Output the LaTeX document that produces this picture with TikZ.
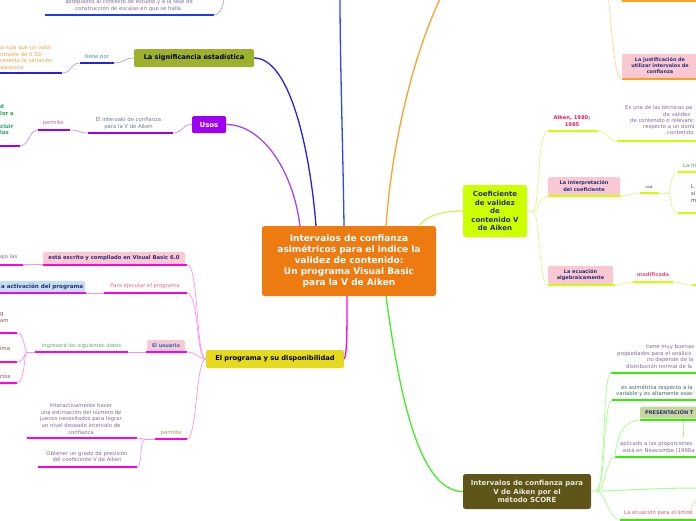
\documentclass[tikz,border=0pt]{standalone}
\usepackage{fontspec}
\setmainfont{DejaVu Sans}
\newcommand\myfs[2]{\fontsize{#1}{#2}\selectfont}
\definecolor{corange}{HTML}{EE7A12}
\definecolor{cpurple}{HTML}{9F00F3}
\definecolor{colive}{HTML}{9DB12E}
\definecolor{cyellow}{HTML}{E6DA20}
\definecolor{clime}{HTML}{CCFF00}
\definecolor{cdark}{HTML}{5E5618}
\definecolor{cpink}{HTML}{F9C8D2}
\definecolor{clblue}{HTML}{C8DDF1}
\definecolor{cpres}{HTML}{C6D69C}
\definecolor{cmag}{HTML}{FF00EE}
\definecolor{cmagl}{HTML}{FF90F8}
\definecolor{cgreen}{HTML}{33EE00}
\definecolor{cgreenl}{HTML}{A8FF90}
\definecolor{climel}{HTML}{E2F88A}
\definecolor{cblue}{HTML}{1E3CF0}
\definecolor{cindigo}{HTML}{2A20E0}
\definecolor{cviol}{HTML}{C890FA}
\definecolor{cbluel}{HTML}{A8A0F8}
\definecolor{corangel}{HTML}{FFD595}
\definecolor{corline}{HTML}{FFA020}
\definecolor{cnavy}{HTML}{26307A}
\definecolor{tpurp}{HTML}{8468A4}
\definecolor{tgreen}{HTML}{1FA35F}
\definecolor{tgreen2}{HTML}{5DB060}
\definecolor{torange}{HTML}{F5A040}
\definecolor{tgrey}{HTML}{6A7898}
\definecolor{tpink}{HTML}{F0508A}
\definecolor{tred}{HTML}{F06878}
\definecolor{tbrown}{HTML}{A04848}
\definecolor{tbrown2}{HTML}{C08858}
\definecolor{tblue}{HTML}{3A90D0}
\definecolor{tbluebox}{HTML}{2070C0}
\definecolor{tcrimson}{HTML}{E8205A}
\definecolor{tdgrey}{HTML}{404060}
\definecolor{tteal}{HTML}{3F6868}
\definecolor{tlgreen}{HTML}{4CA070}
\definecolor{tlight}{HTML}{E8E8D8}
\definecolor{cmainpurp}{HTML}{A844F0}
\definecolor{cmainblue}{HTML}{2A4AF8}
\definecolor{cmainorange}{HTML}{FFA030}
\definecolor{cmainlime}{HTML}{D5F060}
\definecolor{cmaingreen}{HTML}{44EE22}
\begin{document}
\begin{tikzpicture}[x=1pt,y=-1pt,
  txt/.style={inner sep=0pt, align=center, font=\myfs{5.3}{6.6}},
  box/.style={rounded corners=1.5pt, inner sep=0pt, align=center},
  ul/.style={line width=2pt},
  cn/.style={line width=0.7pt},
  mainc/.style={line width=1.3pt},
]
\useasboundingbox (0,0) rectangle (696,520);
\clip (0,0) rectangle (696,520);
\fill[white] (0,0) rectangle (696,520);

% ---------- central node ----------
\node[box, rounded corners=2.5pt, fill=corange, minimum width=174pt, minimum height=70pt, text=white,
  font=\bfseries\myfs{9}{10.8}] (center) at (349,261)
  {Intervalos de confianza\\asimétricos para el indice la\\validez de contenido:\\Un programa Visual Basic\\para la V de Aiken};
\coordinate (cU) at (300,226);
\coordinate (cS) at (316,226);
\coordinate (cB) at (344,226);
\coordinate (cO) at (386,226);
\coordinate (cC) at (419,226);
\coordinate (cP) at (347,296);
\coordinate (cG) at (386,296);
\coordinate (btop) at (340,-3);
\coordinate (otop) at (441,-3);

% ---------- top left ----------
\node[txt, text=tpurp] (topt) at (129,5.5) {apropiados al contexto de estudio y a la fase de\\construcción de escalas en que se halla.};
\coordinate (tlL) at (45,15);
\coordinate (tlR) at (214,15);
\coordinate (tltop) at (224,-3);
\draw[ul, cblue] (tlL) -- (tlR);
\draw[cn, cbluel] (tlR) .. controls +(6,0) and +(0,8) .. (tltop);

% ---------- significancia ----------
\node[box, fill=colive, minimum width=120pt, minimum height=18pt, font=\bfseries\myfs{6.6}{7.5}] (sig) at (194,58) {La significancia estadística};
\node[txt, text=tblue] (tp) at (97,57) {tiene por};
\coordinate (tpL) at (80,63);
\coordinate (tpR) at (114,63);
\draw[ul, cindigo] (tpL) -- (tpR);
\draw[cn, cbluel] (tpR) .. controls +(10,0) and +(-10,0) .. (sig.west);
\node[txt, text=torange, anchor=west, align=left, font=\myfs{5.3}{6.5}] (ornt) at (0,57.5) {a nula que un valor\\ntraste de 0.50,\\resenta la variación\\ aleatoria};
\coordinate (orL) at (-3,73);
\coordinate (orR) at (62,73);
\draw[ul, cindigo] (orL) -- (orR);
\draw[cn, cbluel] (orR) .. controls +(10,0) and +(-10,0) .. (tpL);

% ---------- usos ----------
\node[box, fill=cpurple, minimum width=34pt, minimum height=17pt, text=white, font=\bfseries\myfs{7}{8}] (usos) at (209,124.5) {Usos};
\node[txt, text=tgrey] (eiv) at (128.5,123.5) {El intervalo de confianza\\para la V de Aiken};
\coordinate (eivL) at (88,133);
\coordinate (eivR) at (173,133);
\draw[ul, cpurple] (eivL) -- (eivR);
\draw[cn, cviol] (eivR) .. controls +(10,0) and +(-10,0) .. (usos.west);
\node[txt, text=tpink] (perm1) at (53,123) {permite};
\coordinate (p1L) at (38,130);
\coordinate (p1R) at (70,130);
\draw[ul, cpurple] (p1L) -- (p1R);
\draw[cn, cviol] (p1R) .. controls +(9,0) and +(-9,0) .. (eivL);
\node[txt, text=tgreen, anchor=west, align=left, font=\bfseries\myfs{5.3}{6.5}] (grt) at (0,120) {d\\lor a\\\mbox{}\\cluir\\los};
\coordinate (grL) at (-3,146);
\coordinate (grR) at (20,146);
\draw[ul, cpurple] (grL) -- (grR);
\draw[cn, cviol] (grR) .. controls +(9,0) and +(-9,0) .. (p1L);

% ---------- el programa ----------
\node[box, fill=cyellow, minimum width=138pt, minimum height=18pt, font=\bfseries\myfs{6.7}{7.5}] (prog) at (275,359) {El programa y su disponibilidad};

\node[box, fill=cpink, minimum width=142pt, minimum height=12pt, text=cnavy, font=\bfseries\myfs{5.3}{6}] (vb) at (114,258) {está escrito y compilado en Visual Basic 6.0};
\coordinate (vbL) at (43,264.5);
\coordinate (vbR) at (187,264.5);
\draw[ul, cmag] (vbL) -- (vbR);
\draw[cn, cmagl] (vbR) .. controls +(12,0) and +(-10,0) .. (prog.west);
\node[txt, text=tpurp, anchor=west] (ajo) at (0,257.5) {ajo las};
\coordinate (ajL) at (-3,264.5);
\coordinate (ajR) at (23,264.5);
\draw[ul, cmag] (ajL) -- (ajR);
\draw[cn, cmagl] (ajR) -- (vbL);

\node[txt, text=tred] (pe) at (145,286) {Para ejecutar el programa};
\coordinate (peL) at (104,293);
\coordinate (peR) at (187,293);
\draw[ul, cmag] (peL) -- (peR);
\draw[cn, cmagl] (peR) .. controls +(12,0) and +(-10,0) .. (prog.west);
\node[box, fill=clblue, anchor=west, minimum height=11.5pt, text width=89pt, align=right, inner xsep=2pt, text=cnavy, font=\bfseries\myfs{5.6}{6}] (act) at (-8,286.5) {a activación del programa};
\coordinate (baL) at (-3,293);
\coordinate (baR) at (86,293);
\draw[ul, cmag] (baL) -- (baR);
\draw[cn, cmagl] (baR) -- (peL);

\node[box, fill=cpink, minimum width=38pt, minimum height=11.5pt, text=tbluebox, font=\bfseries\myfs{5}{6}] (usu) at (166,345.8) {El usuario};
\coordinate (usL) at (146,352);
\coordinate (usR) at (187,352);
\draw[ul, cmag] (usL) -- (usR);
\draw[cn, cmagl] (usR) .. controls +(10,0) and +(-8,0) .. (prog.west);
\node[txt, text=tgreen2] (ing) at (81.5,346) {ingresará los siguientes datos};
\coordinate (inL) at (35,352);
\coordinate (inR) at (128,352);
\coordinate (inJ) at (27,352);
\draw[ul, cmag] (inL) -- (inR);
\draw[cn, cmagl] (inR) -- (usL);
\draw[cn, cmagl] (inL) -- (inJ);
\coordinate (k1) at (17,333);
\coordinate (k2) at (17,362);
\coordinate (k3) at (17,383);
\coordinate (k1L) at (-3,333);
\coordinate (k2L) at (-3,362);
\coordinate (k3L) at (-3,383);
\draw[ul, cmag] (k1L) -- (k1);
\draw[ul, cmag] (k2L) -- (k2);
\draw[ul, cmag] (k3L) -- (k3);
\draw[cn, cmagl] (inJ) .. controls +(-3,0) and +(8,0) .. (k1);
\draw[cn, cmagl] (inJ) .. controls +(-3,0) and +(8,0) .. (k2);
\draw[cn, cmagl] (inJ) .. controls +(-3,0) and +(8,0) .. (k3);
\node[txt, text=tbrown, anchor=west, align=left] (g1) at (0,317.5) {g\\am};
\node[txt, text=tbrown, anchor=west] (g2) at (0,349) {ima};
\node[txt, text=tbrown, anchor=west] (g3) at (0,377) {rtos};

\node[txt, text=tbrown2] (perm2) at (171,433) {permite};
\coordinate (p2L) at (155,439);
\coordinate (p2R) at (187,439);
\coordinate (p2J) at (145,439);
\draw[ul, cmag] (p2L) -- (p2R);
\draw[cn, cmagl] (p2R) .. controls +(10,0) and +(-10,0) .. (prog.west);
\draw[cn, cmagl] (p2L) -- (p2J);
\node[txt, text=tpurp] (inter) at (81,419) {Interactivamente hacer\\una estimación del número de\\jueces necesitados para lograr\\un nivel deseado intervalo de\\confianza};
\coordinate (i1L) at (27,438);
\coordinate (i1R) at (137,438);
\draw[ul, cmag] (i1L) -- (i1R);
\node[txt, text=tpurp] (obt) at (87,456.5) {Obtener un grado de precisión\\del coeficiente V de Aiken};
\coordinate (o1L) at (38,467);
\coordinate (o1R) at (137,467);
\draw[ul, cmag] (o1L) -- (o1R);
\draw[cn, cmagl] (p2J) .. controls +(-4,0) and +(4,0) .. (i1R);
\draw[cn, cmagl] (p2J) .. controls +(-6,0) and +(6,0) .. (o1R);

% ---------- top right ----------
\node[box, fill=cpink, minimum width=76pt, minimum height=24.5pt, text=cnavy, font=\bfseries\myfs{4.9}{6}] (just) at (660,66) {La justificación de\\utilizar intervalos de\\confianza};
\coordinate (juL) at (622,79);
\coordinate (juR) at (699,79);
\draw[ul, corline] (juL) -- (juR);
\coordinate (orpar) at (600,-30);
\draw[cn, corangel] (orpar) .. controls +(12,0) and +(-12,0) .. (juL);
\coordinate (otL) at (622,0.8);
\coordinate (otR) at (699,0.8);
\draw[ul, corline] (otL) -- (otR);
\draw[cn, corangel] (orpar) .. controls +(10,0) and +(-8,0) .. (otL);

% ---------- coeficiente ----------
\node[box, rounded corners=2.5pt, fill=clime, minimum width=64pt, minimum height=52pt, text=cnavy, font=\bfseries\myfs{7}{8.5}] (coef) at (495,211) {Coeficiente\\de validez\\de\\contenido V\\de Aiken};
\coordinate (coJ) at (532,211);
\draw[cn, climel] (coef.east) -- (coJ);

\node[txt, text=tcrimson, font=\bfseries\myfs{5.2}{6.2}] (aik) at (572,121) {Aiken, 1980;\\1985};
\coordinate (akL) at (548,131);
\coordinate (akR) at (598,131);
\draw[ul, clime] (akL) -- (akR);
\draw[cn, climel] (coJ) .. controls (541,211) and (536,131) .. (akL);
\coordinate (esL) at (617,141);
\coordinate (esR) at (699,141);
\draw[ul, clime] (esL) -- (esR);
\draw[cn, climel] (akR) .. controls +(10,0) and +(-10,0) .. (esL);
\node[txt, text=tpurp, anchor=west] (es1) at (625,108) {Es una de las técnicas pa};
\node[txt, text=tpurp, anchor=west] (es2) at (663,114.5) {de validez};
\node[txt, text=tpurp, anchor=west] (es3) at (630,121) {de contenido o relevanc};
\node[txt, text=tpurp, anchor=west] (es4) at (643,127) {respecto a un domi};
\node[txt, text=tpurp, anchor=west] (es5) at (667,133) {contenido};

\node[box, fill=cpink, minimum width=72pt, minimum height=18pt, text=cnavy, font=\bfseries\myfs{5}{6.5}] (interp) at (584,186) {La interpretación\\del coeficiente};
\coordinate (inpL) at (548,196);
\coordinate (inpR) at (621,196);
\draw[ul, clime] (inpL) -- (inpR);
\draw[cn, climel] (coJ) .. controls (540,211) and (538,196) .. (inpL);
\node[txt, text=tdgrey, font=\myfs{4}{5}] (usa) at (649,187) {usa};
\coordinate (usaL) at (640,193);
\coordinate (usaR) at (659,193);
\coordinate (usaJ) at (668,193);
\draw[ul, clime] (usaL) -- (usaR);
\draw[cn, climel] (inpR) .. controls +(10,0) and +(-10,0) .. (usaL);
\draw[cn, climel] (usaR) -- (usaJ);
\coordinate (m1L) at (678,172);
\coordinate (m1R) at (699,172);
\coordinate (m2L) at (678,213);
\coordinate (m2R) at (699,213);
\draw[ul, clime] (m1L) -- (m1R);
\draw[ul, clime] (m2L) -- (m2R);
\draw[cn, climel] (usaJ) .. controls +(4,0) and +(-9,0) .. (m1L);
\draw[cn, climel] (usaJ) .. controls +(4,0) and +(-9,0) .. (m2L);
\node[txt, text=tlgreen, anchor=west] (lam) at (683,166) {La m};
\node[txt, text=tdgrey, anchor=west, align=left] (lsm) at (691,193.5) {L\\si\\m};

\node[box, fill=cpink, minimum width=65pt, minimum height=18pt, text=cnavy, font=\bfseries\myfs{5}{6.5}] (ecu) at (580.5,275) {La ecuación\\algebraicamente};
\coordinate (ecL) at (548,285);
\coordinate (ecR) at (615,285);
\draw[ul, clime] (ecL) -- (ecR);
\draw[cn, climel] (coJ) .. controls (541,211) and (538,285) .. (ecL);
\node[txt, text=tpink, font=\bfseries\myfs{5.2}{6}] (mod) at (653,275) {modificada};
\coordinate (moL) at (633,282);
\coordinate (moR) at (673,282);
\draw[ul, clime] (moL) -- (moR);
\draw[cn, climel] (ecR) .. controls +(9,0) and +(-9,0) .. (moL);
\coordinate (mcL) at (692,285);
\coordinate (mcR) at (699,285);
\draw[ul, clime] (mcL) -- (mcR);
\draw[cn, climel] (moR) .. controls +(9,0) and +(-9,0) .. (mcL);

% ---------- score ----------
\node[box, rounded corners=2.5pt, fill=cdark, minimum width=128pt, minimum height=35pt, text=tlight, font=\bfseries\myfs{7}{8.5}] (score) at (527,491.5) {Intervalos de confianza para\\V de Aiken por el\\método SCORE};
\coordinate (scJ) at (596,491);
\draw[cn, cgreenl] (score.east) -- (scJ);

\coordinate (tmL) at (611,373);
\coordinate (tmR) at (699,373);
\draw[ul, cgreen] (tmL) -- (tmR);
\draw[cn, cgreenl] (scJ) .. controls (606,491) and (602,373) .. (tmL);
\node[txt, text=tpurp, anchor=west] (tm1) at (646,347) {tiene muy buenas};
\node[txt, text=tpurp, anchor=west] (tm2) at (617,353.5) {propiedades para el análisis};
\node[txt, text=tpurp, anchor=west] (tm3) at (647,360) {no depende de la};
\node[txt, text=tpurp, anchor=west] (tm4) at (626,366) {distribución normal de la};

\coordinate (eaL) at (612,400);
\coordinate (eaR) at (699,400);
\draw[ul, cgreen] (eaL) -- (eaR);
\draw[cn, cgreenl] (scJ) .. controls (606,491) and (603,400) .. (eaL);
\node[txt, text=tteal, anchor=west] (ea1) at (621,388) {es asimétrica respecto a la};
\node[txt, text=tteal, anchor=west] (ea2) at (616,394.5) {variable y es altamente exac};

\node[box, fill=cpres, anchor=west, minimum height=12pt, text width=58pt, align=left, inner xsep=5pt, text=cnavy, font=\bfseries\myfs{5}{6}] (pres) at (640,412.5) {PRESENTACIÓN T};
\coordinate (prL) at (640,420);
\coordinate (prR) at (699,420);
\draw[ul, cgreen] (prL) -- (prR);
\coordinate (vt1) at (683,421);
\coordinate (vt2) at (683,437);
\draw[cn, cgreenl] (vt1) -- (vt2);

\coordinate (apL) at (615,457);
\coordinate (apR) at (699,457);
\draw[ul, cgreen] (apL) -- (apR);
\draw[cn, cgreenl] (scJ) .. controls (606,491) and (606,457) .. (apL);
\draw[cn, cgreenl] (apL) .. controls (617,432) and (626,420) .. (prL);
\node[txt, text=tpurp, anchor=west] (ap1) at (620,444) {aplicado a las proporciones};
\node[txt, text=tpurp, anchor=west] (ap2) at (623,451) {está en Newcombe (1998a};

\coordinate (reR) at (699,488);
\draw[cn, cgreenl, line width=1pt] (scJ) .. controls (620,491) and (650,488) .. (reR);
\coordinate (rc1) at (699,499);
\coordinate (rc2) at (690,513);
\draw[cn, cgreenl] (rc1) .. controls (692,501) and (692,508) .. (rc2);

\coordinate (lecL) at (620,519.5);
\coordinate (lecR) at (699,519.5);
\draw[ul, cgreen] (lecL) -- (lecR);
\draw[cn, cgreenl] (scJ) .. controls (606,491) and (608,519.5) .. (lecL);
\node[txt, text=tpink, anchor=west] (lec) at (624,513) {La ecuación para el límite};

% ---------- main connectors ----------
\draw[mainc, cmainpurp] (cU) .. controls (293,170) and (262,124.5) .. (usos.east);
\draw[mainc, cindigo] (cS) .. controls (310,150) and (290,58) .. (sig.east);
\draw[mainc, cmainblue] (cB) .. controls (343,150) and (340,60) .. (btop);
\draw[mainc, cmainorange] (cO) .. controls (392,140) and (415,50) .. (otop);
\draw[mainc, cmainlime] (cC) .. controls (428,214) and (445,211) .. (coef.west);
\draw[mainc, cmag] (cP) .. controls (347,330) and (347,355) .. (prog.east);
\draw[mainc, cmaingreen] (cG) .. controls (400,400) and (420,491) .. (score.west);
\end{tikzpicture}
\end{document}
